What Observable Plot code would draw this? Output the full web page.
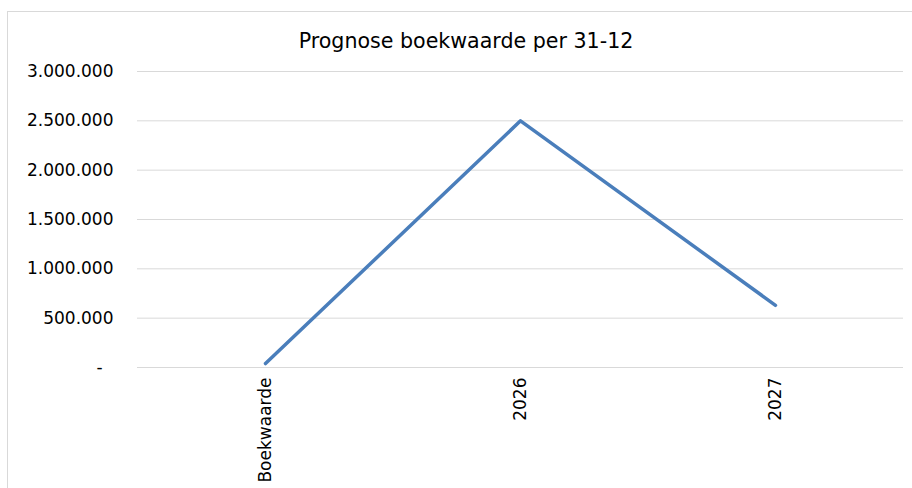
<!DOCTYPE html>
<html>
<head>
<meta charset="utf-8">
<script src="https://cdn.jsdelivr.net/npm/d3@7"></script>
<script src="https://cdn.jsdelivr.net/npm/@observablehq/plot@0.6"></script>
<style>
  html, body { margin: 0; padding: 0; background: #fff; overflow: hidden; }
  #wrap { position: relative; width: 912px; height: 488px; font-family: "DejaVu Sans", Verdana, sans-serif; }
  #frame { position: absolute; left: 7px; top: 11px; width: 920px; height: 500px; border: 1px solid #d9d9d9; box-sizing: border-box; }
  #title { position: absolute; left: 0; top: 29px; width: 932px; text-align: center; font-size: 20.6px; line-height: 24px; color: #000; white-space: nowrap; }
  #chart { position: absolute; left: 0; top: 0; }
</style>
</head>
<body>
<div id="wrap">
  <div id="frame"></div>
  <div id="chart"></div>
  <div id="title">Prognose boekwaarde per 31-12</div>
</div>
<script>
const categories = ["Boekwaarde", "2026", "2027"];
const values = [40000, 2500000, 630000];
const yTicks = [0, 500000, 1000000, 1500000, 2000000, 2500000, 3000000];

const data = categories.map((c, i) => ({ category: c, value: values[i] }));
const fmt = v => v === 0 ? "-\u00a0\u00a0" : d3.format(",")(v).replace(/,/g, ".");

const plot = Plot.plot({
  width: 912,
  height: 488,
  marginLeft: 137,
  marginRight: 9,
  marginTop: 71,
  marginBottom: 121,
  style: { fontFamily: "DejaVu Sans, Verdana, sans-serif", fontSize: "17px", color: "#000", background: "transparent", overflow: "visible" },
  x: { type: "point", domain: categories, padding: 0.5, label: null },
  y: { domain: [0, 3000000], label: null },
  marks: [
    Plot.gridY(yTicks, { stroke: "#d9d9d9", strokeOpacity: 1, strokeWidth: 1 }),
    Plot.axisY(yTicks, { tickSize: 0, tickPadding: 24, tickFormat: fmt, fontSize: 17 }),
    Plot.axisX({ tickSize: 0, tickRotate: -90, tickPadding: 10, fontSize: 17 }),
    Plot.line(data, { x: "category", y: "value", stroke: "#4a7ebb", strokeWidth: 3.5, strokeLinecap: "round" })
  ]
});
document.getElementById("chart").appendChild(plot);
</script>
</body>
</html>
